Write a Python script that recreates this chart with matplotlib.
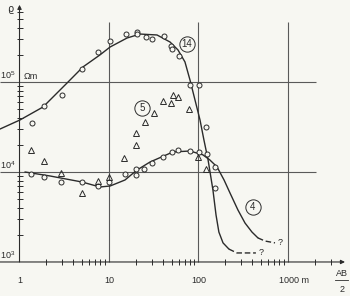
import matplotlib
matplotlib.use('Agg')
import matplotlib.pyplot as plt

# ---------------- data ----------------
# curve 14 (upper solid curve) and its dashed continuation
c14_x = [0.605, 1.01, 1.83, 3.40, 5.12, 7.93, 10.3, 15.9, 22.2, 34.4, 48.1, 59.0, 70.6,
         80.4, 91.4, 104, 115, 128, 145, 157, 169, 188, 219]
c14_y = [30000, 37800, 52700, 97500, 147000, 200000, 245000, 308000, 341000, 333000,
         278000, 227000, 167000, 105000, 63100, 37800, 22700, 13600, 6310, 3330, 2150,
         1630, 1390]
c14d_x = [219, 269, 348, 438]
c14d_y = [1390, 1260, 1260, 1260]

# curve 4 (lower solid curve) and its dashed continuation
c4_x = [1.15, 2.19, 4.99, 7.93, 10.3, 15.1, 20.5, 28.7, 51.9, 80.4, 112, 134, 161, 193,
        225, 276, 331, 396, 462]
c4_y = [10000, 9030, 7740, 6810, 6990, 8150, 10500, 12900, 16700, 17100, 15500, 13600,
        11400, 8150, 5840, 3780, 2710, 2150, 1850]
c4d_x = [462, 553, 716]
c4d_y = [1850, 1710, 1630]

# measured points: circles of sounding 14
p14_x = [1.38, 1.88, 2.98, 4.99, 7.54, 10.3, 15.5, 20.5, 20.5, 25.9, 30.2, 41.2, 49.3,
         50.6, 60.6, 80.4, 101, 121, 153]
p14_y = [35000, 54100, 71700, 139000, 215000, 285000, 341000, 359000, 341000, 316000,
         300000, 324000, 251000, 233000, 194000, 92600, 92600, 31600, 6640]

# measured points: circles of sounding 4
p4_x = [1.34, 1.88, 2.91, 4.99, 7.54, 10.0, 15.1, 20.0, 20.0, 24.6, 30.2, 40.1, 50.6,
        59.0, 80.4, 101, 124, 153]
p4_y = [9500, 8800, 7740, 7740, 6990, 7740, 9500, 9270, 10800, 10800, 12600, 14700,
        16700, 17600, 17100, 16700, 15800, 11400]

# measured points: triangles of sounding 5
p5_x = [1.34, 1.88, 2.91, 4.99, 7.54, 10.0, 14.7, 20.0, 20.0, 25.2, 31.8, 40.1, 49.3,
        51.9, 59.0, 78.3, 98.7, 121]
p5_y = [17600, 13300, 9750, 5840, 7940, 8800, 14300, 19900, 27100, 35900, 45300, 61500,
        58400, 71700, 68100, 50100, 14700, 10800]

# curve labels
lab_text = ['14', '5', '4']
lab_x = [74.4, 23.4, 406]
lab_y = [264000, 51400, 4080]

# axis tick labels
xtick_vals = [1, 10, 100, 1000]
xtick_labels = ['1', '10', '100', '1000 m']
ytick_vals = [1e3, 1e4, 1e5]
ytick_exps = ['3', '4', '5']

# ---------------- style ----------------
bg = '#f7f7f2'
ink = '#2b2b2b'
grid_c = '#5a5a5a'
plt.rcParams['font.family'] = ['Liberation Sans', 'DejaVu Sans']
plt.rcParams['mathtext.fontset'] = 'custom'
plt.rcParams['mathtext.rm'] = 'Liberation Sans'
plt.rcParams['mathtext.it'] = 'Liberation Sans:italic'
FS = 6.5

fig = plt.figure(figsize=(3.5, 2.96), dpi=100)
fig.patch.set_facecolor(bg)
ax = fig.add_axes([0, 0, 1, 1])
ax.set_xscale('log')
ax.set_yscale('log')
xmin, xmax = 10 ** -0.218, 10 ** 3.693
ymin, ymax = 10 ** 2.622, 10 ** 5.911
ax.set_xlim(xmin, xmax)
ax.set_ylim(ymin, ymax)
ax.axis('off')

# reference grid lines
ax.hlines([1e4, 1e5], xmin, 2055, color=grid_c, lw=0.8)
ax.vlines([10, 100, 1000], 1e3, 4.64e5, color=grid_c, lw=0.8)

# axes with arrows
ax.annotate('', xy=(4335, 1e3), xytext=(xmin, 1e3),
            arrowprops=dict(arrowstyle='-|>', lw=0.8, color=ink, mutation_scale=6,
                            shrinkA=0, shrinkB=0))
ax.annotate('', xy=(1, 7.2e5), xytext=(1, 1e3),
            arrowprops=dict(arrowstyle='-|>', lw=0.8, color=ink, mutation_scale=6,
                            shrinkA=0, shrinkB=0))

# minor ticks
xt = [m * d for d in (1, 10, 100) for m in range(2, 10)] + [2000, 3000]
ax.plot(xt, [1e3] * len(xt), ls='none', marker='|', ms=4, mew=0.7, color=ink)
yt = [m * d for d in (1e3, 1e4) for m in range(2, 10)] + [2e5, 3e5, 4e5, 5e5, 6e5]
ax.plot([1] * len(yt), yt, ls='none', marker='_', ms=4, mew=0.7, color=ink)

# curves
ax.plot(c14_x, c14_y, color=ink, lw=1.0, solid_capstyle='round', solid_joinstyle='round')
ax.plot(c14d_x, c14d_y, color=ink, lw=1.0, ls=(0, (4, 2)))
ax.plot(c4_x, c4_y, color=ink, lw=1.0, solid_capstyle='round', solid_joinstyle='round')
ax.plot(c4d_x, c4d_y, color=ink, lw=1.0, ls=(0, (4, 2)))
ax.annotate('?', (c14d_x[-1], c14d_y[-1]), xytext=(2, 0), textcoords='offset points',
            fontsize=FS, ha='left', va='center', color=ink)
ax.annotate('?', (c4d_x[-1], c4d_y[-1]), xytext=(2, 0), textcoords='offset points',
            fontsize=FS, ha='left', va='center', color=ink)

# measured points
ax.plot(p14_x, p14_y, ls='none', marker='o', ms=3.6, mfc=bg, mec=ink, mew=0.7)
ax.plot(p4_x, p4_y, ls='none', marker='o', ms=3.6, mfc=bg, mec=ink, mew=0.7)
ax.plot(p5_x, p5_y, ls='none', marker='^', ms=4.2, mfc='none', mec=ink, mew=0.7)

# circled labels
for t, x, y in zip(lab_text, lab_x, lab_y):
    ax.plot([x], [y], marker='o', ms=11, mfc=bg, mec=ink, mew=0.7, ls='none')
    ax.text(x, y, t, fontsize=FS + 0.5, ha='center', va='center', color=ink)

# tick labels
for v, s in zip(xtick_vals, xtick_labels):
    dx = 4.5 if s.endswith('m') else 0
    ax.annotate(s, (v, 1e3), xytext=(dx, -13), textcoords='offset points',
                fontsize=FS, ha='center', va='center', color=ink)
for v, e in zip(ytick_vals, ytick_exps):
    ax.annotate(r'10$^{%s}$' % e, (1, v), xytext=(-3, 1), textcoords='offset points',
                fontsize=FS, ha='right', va='bottom', color=ink)
ax.annotate('Ωm', (1, 1e5), xytext=(3, 1), textcoords='offset points',
            fontsize=FS, ha='left', va='bottom', color=ink)
ax.annotate('ϱ', (1, 7.2e5), xytext=(-7, -3), textcoords='offset points',
            fontsize=FS + 0.5, ha='center', va='center', color=ink,
            family=['DejaVu Sans'])

# AB/2 label
ax.annotate('AB', (xmax, 1e3), xytext=(-6, -8), textcoords='offset points',
            fontsize=FS, ha='center', va='center', color=ink)
ax.annotate('2', (xmax, 1e3), xytext=(-6, -19.5), textcoords='offset points',
            fontsize=FS, ha='center', va='center', color=ink)
fig.add_artist(plt.Line2D([335 / 350, 348 / 350], [1 - 280 / 296, 1 - 280 / 296],
                          color=ink, lw=0.6))

fig.savefig('out.png', dpi=100, facecolor=bg)
